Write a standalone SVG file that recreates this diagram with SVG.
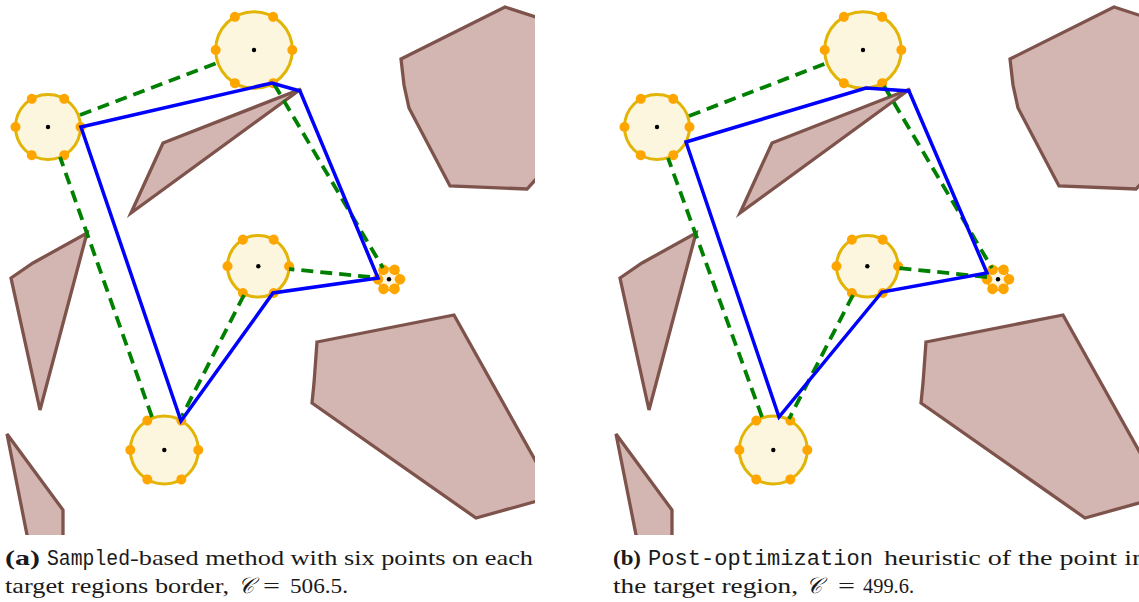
<svg xmlns="http://www.w3.org/2000/svg" width="1139" height="602" viewBox="0 0 1139 602">
<style>
.obs{fill:#d3b6b2;stroke:#7e534c;stroke-width:3.3;stroke-linejoin:miter}
.reg{fill:#fdf6de;stroke:#e2b406;stroke-width:3}
.dot{fill:#ffa500}
.ctr{fill:#000}
.tour{fill:none;stroke:#0000ff;stroke-width:3.5;stroke-linejoin:miter}
.link{fill:none;stroke:#008000;stroke-width:3.8;stroke-dasharray:12 7}
.cap{font-family:"Liberation Serif","DejaVu Serif",serif;font-size:22px;fill:#1a1a1a}
.b{font-weight:bold}
.mono{font-family:"Liberation Mono","DejaVu Sans Mono",monospace}
.cal{font-family:"DejaVu Serif","Liberation Serif",serif;font-style:italic}
</style>
<defs>
<clipPath id="clipL"><rect x="0" y="0" width="535" height="535"/></clipPath>
<clipPath id="clipR"><rect x="609" y="0" width="535" height="535"/></clipPath>
</defs>

<!-- Panel (a) -->
<g id="panelA" clip-path="url(#clipL)">
  <g id="obstaclesA">
    <polygon class="obs" points="401,59 505,7 548,21 548,166 527,189 450,186 409,108 404,85"/>
    <polygon class="obs" points="163,143 301,89 131,213"/>
    <polygon class="obs" points="11,278 33,263 87,233 40,410"/>
    <polygon class="obs" points="7,434 63,510 63,560 32,560"/>
    <polygon class="obs" points="317,342 454,315 548,483 548,498 476,518 312,403 314,383"/>
  </g>
  <g id="a_regA" transform="translate(48,127)">
    <circle class="reg" r="32.5"/>
    <g class="dot"><circle cx="32.5" r="5"/><circle cx="32.5" r="5" transform="rotate(60)"/><circle cx="32.5" r="5" transform="rotate(120)"/><circle cx="32.5" r="5" transform="rotate(180)"/><circle cx="32.5" r="5" transform="rotate(240)"/><circle cx="32.5" r="5" transform="rotate(300)"/></g>
  </g>
  <g id="a_regB" transform="translate(254,50)">
    <circle class="reg" r="38.3"/>
    <g class="dot"><circle cx="38.3" r="5"/><circle cx="38.3" r="5" transform="rotate(60)"/><circle cx="38.3" r="5" transform="rotate(120)"/><circle cx="38.3" r="5" transform="rotate(180)"/><circle cx="38.3" r="5" transform="rotate(240)"/><circle cx="38.3" r="5" transform="rotate(300)"/></g>
  </g>
  <g id="a_regC" transform="translate(258.3,266.3)">
    <circle class="reg" r="30.8"/>
    <g class="dot"><circle cx="30.8" r="5"/><circle cx="30.8" r="5" transform="rotate(60)"/><circle cx="30.8" r="5" transform="rotate(120)"/><circle cx="30.8" r="5" transform="rotate(180)"/><circle cx="30.8" r="5" transform="rotate(240)"/><circle cx="30.8" r="5" transform="rotate(300)"/></g>
  </g>
  <g id="a_regD" transform="translate(164.3,450)">
    <circle class="reg" r="34"/>
    <g class="dot"><circle cx="34" r="5"/><circle cx="34" r="5" transform="rotate(60)"/><circle cx="34" r="5" transform="rotate(120)"/><circle cx="34" r="5" transform="rotate(180)"/><circle cx="34" r="5" transform="rotate(240)"/><circle cx="34" r="5" transform="rotate(300)"/></g>
  </g>
  <g id="a_regE" transform="translate(389,279.3)">
    <circle class="reg" r="11" style="stroke-width:1.5"/>
    <g class="dot"><circle cx="11" r="5.3"/><circle cx="11" r="5.3" transform="rotate(60)"/><circle cx="11" r="5.3" transform="rotate(120)"/><circle cx="11" r="5.3" transform="rotate(180)"/><circle cx="11" r="5.3" transform="rotate(240)"/><circle cx="11" r="5.3" transform="rotate(300)"/></g>
    <circle cx="0" cy="0" r="5" fill="#fdf6de"/>
  </g>
  <g id="connectorsA">
    <line class="link" x1="80" y1="115" x2="217" y2="63"/>
    <line class="link" x1="274" y1="84" x2="383" y2="268"/>
    <line class="link" x1="370" y1="277" x2="289" y2="269"/>
    <line class="link" x1="244" y1="295" x2="182" y2="416"/>
    <line class="link" x1="152" y1="417" x2="60" y2="157"/>
    <polygon class="tour" points="81,127 272,83 300,91 378,278 273,293 181,421"/>
  </g>
  <g class="ctr">
    <circle cx="48" cy="127" r="2.2"/><circle cx="254" cy="50" r="2.2"/><circle cx="258.3" cy="266.3" r="2.2"/><circle cx="164.3" cy="450" r="2.2"/><circle cx="389" cy="279.3" r="2.2"/>
  </g>
</g>

<!-- Panel (b) -->
<g id="panelB" clip-path="url(#clipR)">
  <g id="obstaclesB" transform="translate(609,0)">
    <polygon class="obs" points="401,59 505,7 548,21 548,166 527,189 450,186 409,108 404,85"/>
    <polygon class="obs" points="163,143 301,89 131,213"/>
    <polygon class="obs" points="11,278 33,263 87,233 40,410"/>
    <polygon class="obs" points="7,434 63,510 63,560 32,560"/>
    <polygon class="obs" points="317,342 454,315 548,483 548,498 476,518 312,403 314,383"/>
  </g>
  <g id="b_regA" transform="translate(657,127)">
    <circle class="reg" r="32.5"/>
    <g class="dot"><circle cx="32.5" r="5"/><circle cx="32.5" r="5" transform="rotate(60)"/><circle cx="32.5" r="5" transform="rotate(120)"/><circle cx="32.5" r="5" transform="rotate(180)"/><circle cx="32.5" r="5" transform="rotate(240)"/><circle cx="32.5" r="5" transform="rotate(300)"/></g>
  </g>
  <g id="b_regB" transform="translate(863,50)">
    <circle class="reg" r="38.3"/>
    <g class="dot"><circle cx="38.3" r="5"/><circle cx="38.3" r="5" transform="rotate(60)"/><circle cx="38.3" r="5" transform="rotate(120)"/><circle cx="38.3" r="5" transform="rotate(180)"/><circle cx="38.3" r="5" transform="rotate(240)"/><circle cx="38.3" r="5" transform="rotate(300)"/></g>
  </g>
  <g id="b_regC" transform="translate(867.3,266.3)">
    <circle class="reg" r="30.8"/>
    <g class="dot"><circle cx="30.8" r="5"/><circle cx="30.8" r="5" transform="rotate(60)"/><circle cx="30.8" r="5" transform="rotate(120)"/><circle cx="30.8" r="5" transform="rotate(180)"/><circle cx="30.8" r="5" transform="rotate(240)"/><circle cx="30.8" r="5" transform="rotate(300)"/></g>
  </g>
  <g id="b_regD" transform="translate(773.3,450)">
    <circle class="reg" r="34"/>
    <g class="dot"><circle cx="34" r="5"/><circle cx="34" r="5" transform="rotate(60)"/><circle cx="34" r="5" transform="rotate(120)"/><circle cx="34" r="5" transform="rotate(180)"/><circle cx="34" r="5" transform="rotate(240)"/><circle cx="34" r="5" transform="rotate(300)"/></g>
  </g>
  <g id="b_regE" transform="translate(998,279.3)">
    <circle class="reg" r="11" style="stroke-width:1.5"/>
    <g class="dot"><circle cx="11" r="5.3"/><circle cx="11" r="5.3" transform="rotate(60)"/><circle cx="11" r="5.3" transform="rotate(120)"/><circle cx="11" r="5.3" transform="rotate(180)"/><circle cx="11" r="5.3" transform="rotate(240)"/><circle cx="11" r="5.3" transform="rotate(300)"/></g>
    <circle cx="0" cy="0" r="5" fill="#fdf6de"/>
  </g>
  <g id="connectorsB">
    <line class="link" x1="689" y1="116" x2="827" y2="63"/>
    <line class="link" x1="884" y1="86" x2="992" y2="268"/>
    <line class="link" x1="987" y1="277" x2="898" y2="268"/>
    <line class="link" x1="853" y1="295" x2="789" y2="419"/>
    <line class="link" x1="762" y1="417" x2="668" y2="158"/>
    <polygon class="tour" points="686,142 866,88 909,91 987,273 882,292 779,417"/>
  </g>
  <g class="ctr">
    <circle cx="657" cy="127" r="2.2"/><circle cx="863" cy="50" r="2.2"/><circle cx="867.3" cy="266.3" r="2.2"/><circle cx="773.3" cy="450" r="2.2"/><circle cx="998" cy="279.3" r="2.2"/>
  </g>
</g>

<!-- Captions -->
<g id="captionA" class="cap">
  <text x="5" y="565" class="b" textLength="35" lengthAdjust="spacingAndGlyphs">(a)</text>
  <text x="47" y="565" class="mono" textLength="83" lengthAdjust="spacingAndGlyphs">Sampled</text>
  <text x="130" y="565" textLength="403" lengthAdjust="spacingAndGlyphs">-based method with six points on each</text>
  <text x="5" y="593" textLength="224" lengthAdjust="spacingAndGlyphs">target regions border,</text>
  <text x="238" y="593" class="cal">𝒞</text>
  <text x="263" y="593" textLength="17" lengthAdjust="spacingAndGlyphs">=</text>
  <text x="290" y="593" textLength="58" lengthAdjust="spacingAndGlyphs">506.5.</text>
</g>
<g id="captionB" class="cap">
  <text x="613" y="565" class="b" textLength="28" lengthAdjust="spacingAndGlyphs">(b)</text>
  <text x="648" y="565" class="mono" textLength="225" lengthAdjust="spacingAndGlyphs">Post-optimization</text>
  <text x="884" y="565" textLength="262" lengthAdjust="spacingAndGlyphs">heuristic of the point in</text>
  <text x="613" y="593" textLength="185" lengthAdjust="spacingAndGlyphs">the target region,</text>
  <text x="806" y="593" class="cal">𝒞</text>
  <text x="838" y="593" textLength="17" lengthAdjust="spacingAndGlyphs">=</text>
  <text x="863" y="593" textLength="51" lengthAdjust="spacingAndGlyphs">499.6.</text>
</g>
</svg>
